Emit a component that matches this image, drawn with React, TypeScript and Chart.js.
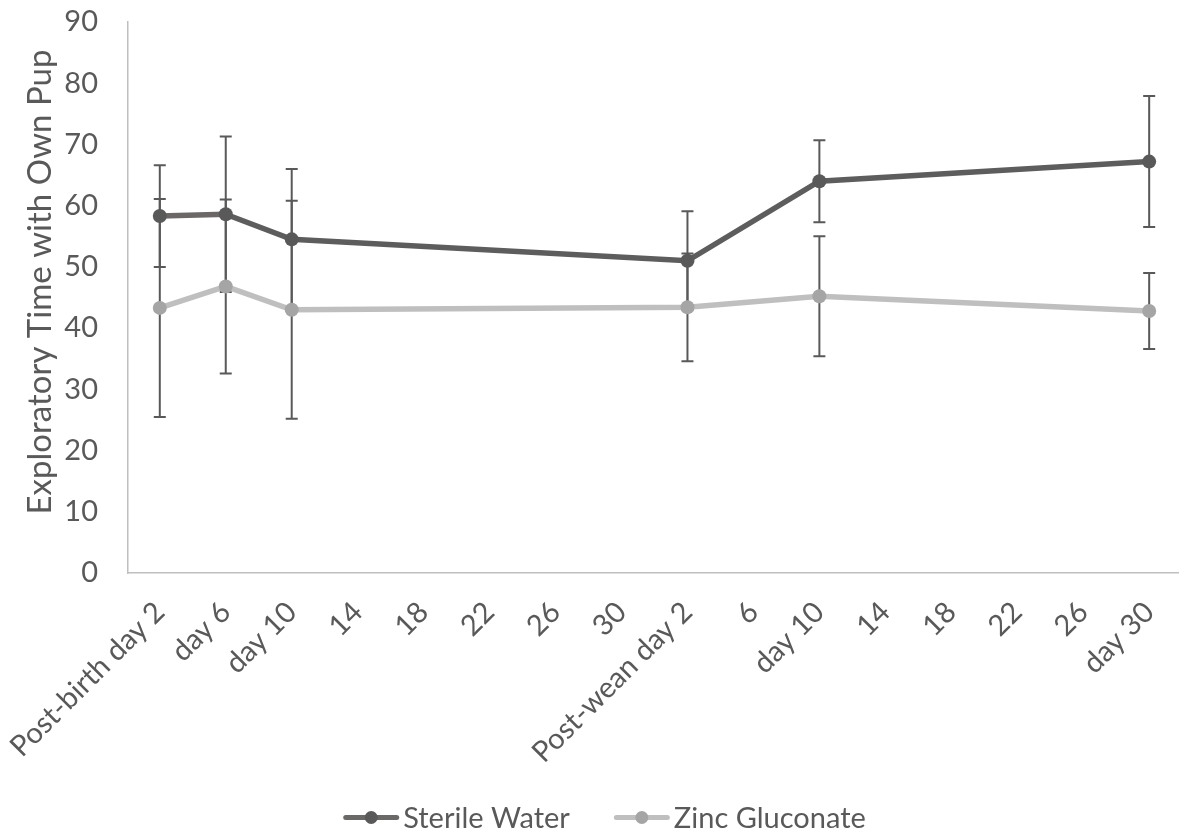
import React, { useEffect, useRef } from "react";
import { Chart, registerables } from "chart.js";

Chart.register(...registerables);

const tickLabels = [
  "Post-birth day 2", "day 6", "day 10", "14", "18", "22", "26", "30",
  "Post-wean day 2", "6", "day 10", "14", "18", "22", "26", "day 30",
];
// position of each measured session on the tick axis
const sessionTicks = [0, 1, 2, 8, 10, 15];

const sterileWater = [58.3, 58.6, 54.5, 51.0, 64.0, 67.2];
const sterileWaterErr = [8.3, 12.7, 11.5, 8.1, 6.7, 10.7];
const zincGluconate = [43.3, 46.8, 43.0, 43.4, 45.2, 42.8];
const zincGluconateErr = [17.8, 14.2, 17.8, 8.8, 9.8, 6.2];

const seriesNames = ["Sterile Water", "Zinc Gluconate"];
const yTitle = "Exploratory Time with Own Pup";

const FONT = "Lato, 'Open Sans', sans-serif";
const TEXT = "#595959";
const AXIS = "#bfbfbf";
const ERR = "#595959";

const errorBarsPlugin = {
  id: "errorBars",
  beforeDatasetsDraw(chart: any) {
    const { ctx } = chart;
    const yScale = chart.scales.y;
    ctx.save();
    ctx.strokeStyle = ERR;
    ctx.lineWidth = 2;
    chart.data.datasets.forEach((ds: any, di: number) => {
      const meta = chart.getDatasetMeta(di);
      if (meta.hidden) return;
      meta.data.forEach((pt: any, i: number) => {
        const v = ds.data[i].y;
        const e = ds.errors[i];
        const top = yScale.getPixelForValue(v + e);
        const bot = yScale.getPixelForValue(v - e);
        const x = pt.x;
        ctx.beginPath();
        ctx.moveTo(x, top);
        ctx.lineTo(x, bot);
        ctx.moveTo(x - 6, top);
        ctx.lineTo(x + 6, top);
        ctx.moveTo(x - 6, bot);
        ctx.lineTo(x + 6, bot);
        ctx.stroke();
      });
    });
    ctx.restore();
  },
};

// Y-axis title and Excel-style legend (line + marker, then label)
const decorationsPlugin = {
  id: "decorations",
  afterDraw(chart: any) {
    const { ctx } = chart;
    ctx.save();
    ctx.fillStyle = TEXT;
    ctx.font = `33px ${FONT}`;
    ctx.textAlign = "center";
    ctx.textBaseline = "alphabetic";
    ctx.translate(51, 282);
    ctx.rotate(-Math.PI / 2);
    ctx.fillText(yTitle, 0, 0);
    ctx.restore();

    ctx.save();
    ctx.font = `29px ${FONT}`;
    const items = chart.data.datasets.map((ds: any) => ({
      text: ds.label as string,
      w: ctx.measureText(ds.label).width,
      line: ds.legendLine as string,
      marker: ds.pointBackgroundColor as string,
    }));
    const W = 56;
    const gapText = 4;
    const gapItem = 44;
    const total =
      items.reduce((s: number, it: any) => s + W + gapText + it.w, 0) + gapItem * (items.length - 1);
    let x = (chart.width - total) / 2 + 12;
    const cy = 817.5;
    for (const it of items) {
      ctx.strokeStyle = it.line;
      ctx.lineWidth = 5;
      ctx.lineCap = "round";
      ctx.beginPath();
      ctx.moveTo(x + 2.5, cy);
      ctx.lineTo(x + W - 2.5, cy);
      ctx.stroke();
      ctx.fillStyle = it.marker;
      ctx.beginPath();
      ctx.arc(x + W / 2, cy, 6.5, 0, Math.PI * 2);
      ctx.fill();
      ctx.fillStyle = TEXT;
      ctx.textAlign = "left";
      ctx.textBaseline = "alphabetic";
      ctx.fillText(it.text, x + W + gapText, 828);
      x += W + gapText + it.w + gapItem;
    }
    ctx.restore();
  },
};

export default function App() {
  const ref = useRef<HTMLCanvasElement | null>(null);

  useEffect(() => {
    document.body.style.margin = "0";
    const canvas = ref.current!;

    const chart = new Chart(canvas, {
      type: "line",
      data: {
        datasets: [
          {
            label: seriesNames[0],
            data: sessionTicks.map((t, i) => ({ x: t, y: sterileWater[i] })),
            errors: sterileWaterErr,
            legendLine: "#6b6868",
            borderColor: "#5d5d5d",
            segment: {
              borderColor: (c: any) => (c.p0DataIndex === 0 ? "#6b6767" : undefined),
            },
            backgroundColor: "#595959",
            borderWidth: 5.5,
            pointRadius: 7,
            pointBorderWidth: 0,
            pointBackgroundColor: "#595959",
            tension: 0,
          } as any,
          {
            label: seriesNames[1],
            data: sessionTicks.map((t, i) => ({ x: t, y: zincGluconate[i] })),
            errors: zincGluconateErr,
            legendLine: "#bfbfbf",
            borderColor: "#bfbfbf",
            backgroundColor: "#a5a5a5",
            borderWidth: 5.5,
            pointRadius: 7,
            pointBorderWidth: 0,
            pointBackgroundColor: "#a5a5a5",
            tension: 0,
          } as any,
        ],
      },
      options: {
        animation: false,
        responsive: false,
        maintainAspectRatio: false,
        layout: { padding: { left: 0, right: 0, top: 22, bottom: 64 } },
        plugins: {
          tooltip: { enabled: false },
          legend: { display: false },
        },
        scales: {
          x: {
            type: "linear",
            min: -0.482,
            max: 15.437,
            grid: { display: false, drawTicks: false },
            border: { display: true, color: AXIS, width: 1.5 },
            afterBuildTicks: (s: any) => {
              s.ticks = tickLabels.map((_, i) => ({ value: i }));
            },
            afterFit: (s: any) => {
              s.height = 200;
              s.paddingLeft = 0;
              s.paddingRight = 0;
            },
            ticks: {
              autoSkip: false,
              minRotation: 45,
              maxRotation: 45,
              padding: 22,
              color: TEXT,
              font: { family: FONT, size: 29 },
              callback: (v: any) => tickLabels[v] ?? "",
            },
          },
          y: {
            min: 0,
            max: 90,
            grid: { display: false, drawTicks: false },
            border: { display: true, color: AXIS, width: 1.5 },
            afterFit: (s: any) => {
              s.width = 128;
              s.paddingTop = 0;
              s.paddingBottom = 0;
            },
            ticks: {
              stepSize: 10,
              padding: 30,
              color: TEXT,
              font: { family: FONT, size: 29 },
            },
          },
        },
      },
      plugins: [errorBarsPlugin, decorationsPlugin],
    } as any);

    return () => chart.destroy();
  }, []);

  return (
    <div style={{ width: 1185, height: 837 }}>
      <canvas ref={ref} width={1185} height={837} style={{ display: "block" }} />
    </div>
  );
}
